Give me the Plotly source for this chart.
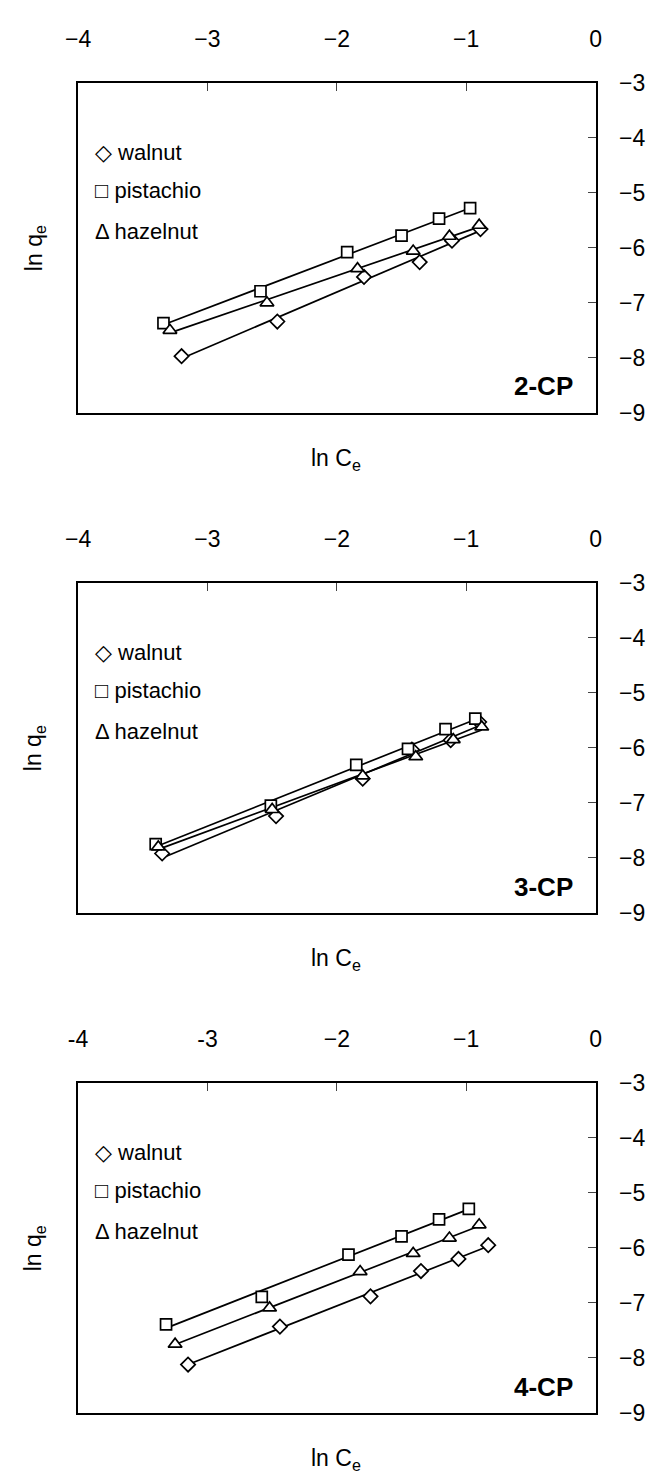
import numpy as np
import plotly.graph_objects as go

# ln Ce / ln qe values for each nut shell and each chlorophenol
cp2_walnut_x = [-3.20, -2.46, -1.79, -1.36, -1.11, -0.89]
cp2_walnut_y = [-7.97, -7.34, -6.53, -6.26, -5.87, -5.66]
cp2_pistachio_x = [-3.34, -2.59, -1.92, -1.50, -1.21, -0.97]
cp2_pistachio_y = [-7.37, -6.79, -6.08, -5.78, -5.47, -5.28]
cp2_hazelnut_x = [-3.29, -2.54, -1.84, -1.41, -1.13, -0.90]
cp2_hazelnut_y = [-7.50, -7.00, -6.38, -6.06, -5.79, -5.59]

cp3_walnut_x = [-3.35, -2.47, -1.80, -1.42, -1.12, -0.90]
cp3_walnut_y = [-7.92, -7.24, -6.56, -6.03, -5.86, -5.53]
cp3_pistachio_x = [-3.40, -2.51, -1.85, -1.45, -1.16, -0.93]
cp3_pistachio_y = [-7.75, -7.05, -6.31, -6.02, -5.66, -5.47]
cp3_hazelnut_x = [-3.38, -2.50, -1.80, -1.39, -1.10, -0.88]
cp3_hazelnut_y = [-7.80, -7.12, -6.51, -6.16, -5.85, -5.62]

cp4_walnut_x = [-3.15, -2.44, -1.74, -1.35, -1.06, -0.83]
cp4_walnut_y = [-8.12, -7.43, -6.88, -6.42, -6.20, -5.95]
cp4_pistachio_x = [-3.32, -2.58, -1.91, -1.50, -1.21, -0.98]
cp4_pistachio_y = [-7.39, -6.89, -6.12, -5.79, -5.48, -5.29]
cp4_hazelnut_x = [-3.25, -2.52, -1.82, -1.41, -1.13, -0.90]
cp4_hazelnut_y = [-7.75, -7.09, -6.43, -6.10, -5.82, -5.58]

panel_names = ["2-CP", "3-CP", "4-CP"]
series_names = ["walnut", "pistachio", "hazelnut"]
x_tick_vals = [-4, -3, -2, -1, 0]
x_tick_text = [
    ["\u22124", "\u22123", "\u22122", "\u22121", "0"],
    ["\u22124", "\u22123", "\u22122", "\u22121", "0"],
    ["-4", "-3", "\u22122", "\u22121", "0"],
]
y_tick_vals = [-3, -4, -5, -6, -7, -8, -9]
y_tick_text = ["\u22123", "\u22124", "\u22125", "\u22126", "\u22127", "\u22128", "\u22129"]

panels = [
    [(cp2_walnut_x, cp2_walnut_y), (cp2_pistachio_x, cp2_pistachio_y), (cp2_hazelnut_x, cp2_hazelnut_y)],
    [(cp3_walnut_x, cp3_walnut_y), (cp3_pistachio_x, cp3_pistachio_y), (cp3_hazelnut_x, cp3_hazelnut_y)],
    [(cp4_walnut_x, cp4_walnut_y), (cp4_pistachio_x, cp4_pistachio_y), (cp4_hazelnut_x, cp4_hazelnut_y)],
]
symbols = ["diamond", "square", "triangle-up"]
legend_glyphs = ["\u25c7", "\u25a1", "\u0394"]

W, H = 656, 1481
FONT = "Liberation Sans, Arial, sans-serif"
x_left, x_right = 67, 600
panel_tops = [71, 580, 1089]
panel_height = 336

fig = go.Figure()
layout = {}
annotations = []

for i, series in enumerate(panels):
    n = "" if i == 0 else str(i + 1)
    xa, ya = "x" + n, "y" + n
    top = panel_tops[i]
    bottom = top + panel_height
    dom_y = [1 - bottom / H, 1 - top / H]
    dom_x = [x_left / W, x_right / W]

    # straight-line fits drawn under the markers
    for (xs, ys) in series:
        k, b = np.polyfit(xs, ys, 1)
        xl = np.array([min(xs), max(xs)])
        fig.add_trace(go.Scatter(x=xl, y=k * xl + b, mode="lines",
                                 line=dict(color="black", width=1.7),
                                 showlegend=False, hoverinfo="skip",
                                 xaxis=xa, yaxis=ya))
    for j, (xs, ys) in enumerate(series):
        fig.add_trace(go.Scatter(x=xs, y=ys, mode="markers", name=series_names[j],
                                 marker=dict(symbol=symbols[j],
                                             size=11 if j != 2 else 12,
                                             color="white",
                                             line=dict(color="black", width=1.7)),
                                 showlegend=False, xaxis=xa, yaxis=ya))

    layout["xaxis" + n] = dict(
        domain=dom_x, anchor=ya, side="top", range=[-4, 0],
        tickvals=x_tick_vals, ticktext=x_tick_text[i],
        ticks="inside", ticklen=8, tickwidth=1, tickcolor="#444",
        showline=True, mirror=True, linecolor="black", linewidth=1.5,
        showgrid=False, zeroline=False, ticklabelstandoff=25,
        tickfont=dict(family=FONT, size=23, color="black"))
    layout["yaxis" + n] = dict(
        domain=dom_y, anchor=xa, side="right", range=[-9, -3],
        tickvals=y_tick_vals, ticktext=y_tick_text,
        ticks="inside", ticklen=8, tickwidth=1, tickcolor="#444",
        showline=True, mirror=True, linecolor="black", linewidth=1.5,
        showgrid=False, zeroline=False, ticklabelstandoff=17,
        tickfont=dict(family=FONT, size=23, color="black"))

    # in-plot key
    key_tops = [top + 71, top + 110, top + 151]
    for j in range(3):
        annotations.append(dict(
            x=82 / W, y=1 - key_tops[j] / H, xref="paper", yref="paper",
            xanchor="left", yanchor="middle", showarrow=False,
            text=legend_glyphs[j] + " " + series_names[j],
            font=dict(family=FONT, size=22, color="black")))
    # panel label
    annotations.append(dict(
        x=-0.40, y=-8.52, xref=xa, yref=ya, xanchor="center", yanchor="middle",
        showarrow=False, text="<b>" + panel_names[i] + "</b>",
        font=dict(family=FONT, size=26, color="black")))
    # axis titles
    annotations.append(dict(
        x=333 / W, y=1 - (bottom + 47) / H, xref="paper", yref="paper",
        xanchor="center", yanchor="middle", showarrow=False,
        text="ln C<sub>e</sub>", font=dict(family=FONT, size=23, color="black")))
    annotations.append(dict(
        x=23 / W, y=1 - (top + panel_height / 2) / H, xref="paper", yref="paper",
        xanchor="center", yanchor="middle", showarrow=False, textangle=-90,
        text="ln q<sub>e</sub>", font=dict(family=FONT, size=23, color="black")))

fig.update_layout(
    width=W, height=H, margin=dict(l=0, r=0, t=0, b=0),
    paper_bgcolor="white", plot_bgcolor="white",
    font=dict(family=FONT, color="black"),
    annotations=annotations, showlegend=False, **layout)

fig.write_html("out.html")
